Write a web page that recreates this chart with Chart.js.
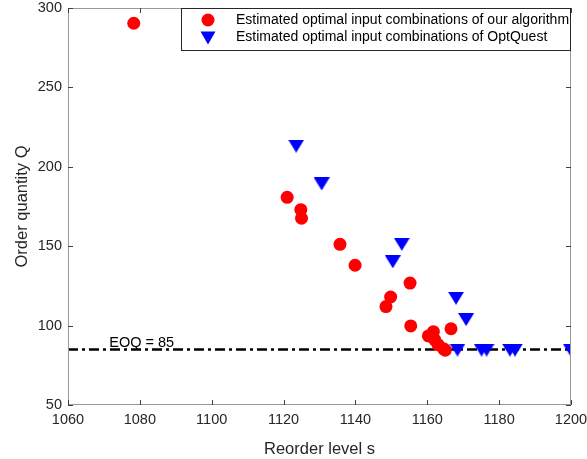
<!DOCTYPE html>
<html>
<head>
<meta charset="utf-8">
<script src="https://cdn.jsdelivr.net/npm/chart.js@4/dist/chart.umd.min.js"></script>
<style>
html,body{margin:0;padding:0;background:#fff;}
#wrap{width:587px;height:459px;position:relative;}
</style>
</head>
<body>
<div id="wrap"><canvas id="c" width="587" height="459"></canvas></div>
<script>
// ---- data ----
const ourS = [1078.3, 1121.0, 1124.8, 1125.0, 1135.7, 1139.9, 1155.2, 1149.8, 1148.5, 1155.4, 1166.6, 1161.7, 1160.3, 1162.1, 1163.0, 1164.5, 1165.0];
const ourQ = [290.4, 180.8, 173.0, 167.6, 151.2, 138.0, 126.8, 118.0, 112.0, 99.8, 98.0, 96.2, 93.5, 91.0, 88.0, 85.5, 84.5];
const optS = [1123.5, 1130.6, 1152.9, 1150.4, 1168.0, 1170.8, 1168.4, 1175.1, 1176.5, 1183.0, 1184.4, 1199.9];
const optQ = [213.0, 189.2, 151.2, 140.2, 117.2, 103.8, 84.6, 84.6, 84.6, 84.6, 84.6, 84.6];
const eoqValue = 85;
const xTicks = [1060, 1080, 1100, 1120, 1140, 1160, 1180, 1200];
const yTicks = [50, 100, 150, 200, 250, 300];
const seriesNames = ['Estimated optimal input combinations of our algorithm', 'Estimated optimal input combinations of OptQuest'];
const eoqLabel = 'EOQ = 85';

const FONT = 'Liberation Sans, Arial, sans-serif';
const AXC = '#999999';
const TXT = '#262626';

const framePlugin = {
  id: 'frame',
  beforeDatasetsDraw(chart) {
    const {ctx, chartArea: a, scales: {x, y}} = chart;
    const yy = y.getPixelForValue(eoqValue);
    ctx.save();
    ctx.strokeStyle = '#000';
    ctx.lineWidth = 2.5;
    ctx.setLineDash([10, 4, 3, 4]);
    ctx.beginPath();
    ctx.moveTo(a.left, yy);
    ctx.lineTo(a.right, yy);
    ctx.stroke();
    ctx.setLineDash([]);
    ctx.fillStyle = '#000';
    ctx.font = '14.5px ' + FONT;
    ctx.textAlign = 'center';
    ctx.textBaseline = 'alphabetic';
    ctx.fillText(eoqLabel, x.getPixelForValue(1080.5), yy - 2);
    ctx.restore();
  },
  afterDatasetsDraw(chart) {
    const {ctx, chartArea: a, scales: {x, y}} = chart;
    ctx.save();
    ctx.strokeStyle = AXC;
    ctx.lineWidth = 1;
    ctx.strokeRect(a.left + 0.5, a.top + 0.5, a.right - a.left - 1, a.bottom - a.top - 1);
    ctx.strokeStyle = '#404040';
    ctx.beginPath();
    xTicks.forEach(v => {
      const px = Math.round(x.getPixelForValue(v)) + 0.5;
      ctx.moveTo(px, a.bottom); ctx.lineTo(px, a.bottom - 5);
      ctx.moveTo(px, a.top); ctx.lineTo(px, a.top + 5);
    });
    yTicks.forEach(v => {
      const py = Math.round(y.getPixelForValue(v)) + 0.5;
      ctx.moveTo(a.left, py); ctx.lineTo(a.left + 5, py);
      ctx.moveTo(a.right, py); ctx.lineTo(a.right - 5, py);
    });
    ctx.stroke();

    // legend
    const lx = 181, ly = a.top, lw = a.right - 181, lh = 43;
    ctx.fillStyle = '#fff';
    ctx.fillRect(lx, ly, lw, lh);
    ctx.strokeStyle = '#262626';
    ctx.strokeRect(lx + 0.5, ly + 0.5, lw - 1, lh - 1);
    const rows = [ly + 12, ly + 29.5];
    chart.data.datasets.forEach((ds, i) => {
      const cy = rows[i];
      ctx.fillStyle = ds.backgroundColor;
      ctx.beginPath();
      if (ds.pointStyle === 'circle') {
        ctx.arc(208, cy, 6.5, 0, Math.PI * 2);
      } else {
        ctx.moveTo(200.5, cy - 6); ctx.lineTo(215.5, cy - 6); ctx.lineTo(208, cy + 7); ctx.closePath();
      }
      ctx.fill();
      ctx.fillStyle = '#000';
      ctx.font = '14px ' + FONT;
      ctx.textAlign = 'left';
      ctx.textBaseline = 'middle';
      ctx.fillText(seriesNames[i], 236, cy);
    });
    ctx.restore();
  }
};

function makeTri(w, h, color) {
  const c = document.createElement('canvas');
  c.width = w; c.height = h;
  const g = c.getContext('2d');
  g.fillStyle = color;
  g.beginPath();
  g.moveTo(0, 0); g.lineTo(w, 0); g.lineTo(w / 2, h); g.closePath();
  g.fill();
  return c;
}
const triImg = makeTri(16, 13, '#0000ff');

new Chart(document.getElementById('c'), {
  type: 'scatter',
  data: {
    datasets: [
      {
        label: seriesNames[0],
        data: ourS.map((s, i) => ({x: s, y: ourQ[i]})),
        pointStyle: 'circle',
        pointRadius: 6.5,
        backgroundColor: '#ff0000',
        borderColor: '#ff0000',
        borderWidth: 0
      },
      {
        label: seriesNames[1],
        data: optS.map((s, i) => ({x: s, y: optQ[i]})),
        pointStyle: triImg,
        backgroundColor: '#0000ff',
        borderColor: '#0000ff',
        pointRadius: 7
      }
    ]
  },
  options: {
    responsive: false,
    animation: false,
    layout: {padding: {left: 0, right: 16, top: 8, bottom: 0}},
    plugins: {legend: {display: false}, tooltip: {enabled: false}},
    scales: {
      x: {
        type: 'linear', min: 1060, max: 1200,
        afterBuildTicks: s => { s.ticks = xTicks.map(v => ({value: v})); },
        afterFit: s => { s.height = 54; s.paddingLeft = 0; s.paddingRight = 0; },
        grid: {display: false, drawTicks: false},
        border: {display: false},
        ticks: {color: TXT, font: {family: FONT, size: 14.5}, padding: 6, maxRotation: 0, callback: v => String(v)},
        title: {display: true, text: 'Reorder level s', color: TXT, font: {family: FONT, size: 16.5}, padding: {top: 3, bottom: 0}}
      },
      y: {
        type: 'linear', min: 50, max: 300,
        afterBuildTicks: s => { s.ticks = yTicks.map(v => ({value: v})); },
        afterFit: s => { s.width = 68; s.paddingTop = 0; s.paddingBottom = 0; },
        grid: {display: false, drawTicks: false},
        border: {display: false},
        ticks: {color: TXT, font: {family: FONT, size: 14.5}, padding: 6, callback: v => String(v)},
        title: {display: true, text: 'Order quantity Q', color: TXT, font: {family: FONT, size: 16.5}, padding: {top: 13, bottom: 0}}
      }
    }
  },
  plugins: [framePlugin]
});
</script>
</body>
</html>
